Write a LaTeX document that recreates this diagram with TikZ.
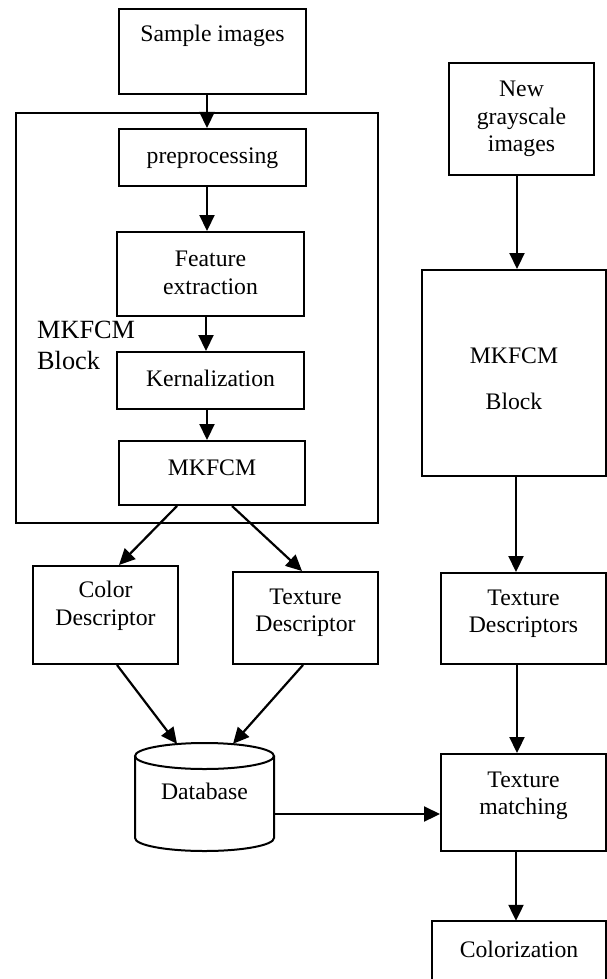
\documentclass[tikz,border=0pt]{standalone}
\usepackage{fontspec}
\setmainfont{Liberation Serif}
\usetikzlibrary{arrows.meta,calc}
\begin{document}
\begin{tikzpicture}[x=1pt,y=-1pt,
  boxline/.style={line width=2pt},
  blk/.style={draw,boxline,inner sep=0pt,rectangle},
  frame/.style={inner sep=0pt,rectangle},
  txt/.style={font=\fontsize{23.7}{27.5}\selectfont,align=center,inner sep=0pt},
  bigtxt/.style={font=\fontsize{26.3}{31}\selectfont,align=left,inner sep=0pt},
  arr/.style={line width=2.2pt,-{Triangle[length=16pt,width=15pt]}}]
\useasboundingbox (0,0) rectangle (607,979);
\fill[white] (0,0) rectangle (607,979);
% left column
\node[blk,minimum width=187,minimum height=85] (sample) at (212.5,51.5) {};
\node[blk,minimum width=362,minimum height=410] (outer) at (197,318) {};
\node[blk,minimum width=187,minimum height=57] (pre) at (212.5,157.5) {};
\node[blk,minimum width=187,minimum height=84] (feat) at (210.5,274) {};
\node[blk,minimum width=187,minimum height=57] (kern) at (210.5,380.5) {};
\node[blk,minimum width=186,minimum height=64] (mk) at (212,473) {};
\node[blk,minimum width=145,minimum height=98] (color) at (105.5,615) {};
\node[blk,minimum width=145,minimum height=92] (tex) at (305.5,618) {};
\node[frame,minimum width=139,minimum height=108] (db) at (204.5,797) {};
\draw[boxline] (204.5,756) ellipse[x radius=69.5pt,y radius=13pt];
\draw[boxline] (135,756) -- (135,838) arc[start angle=180,end angle=360,x radius=69.5pt,y radius=13pt] -- (274,756);
% right column
\node[blk,minimum width=145,minimum height=112] (new) at (521.5,119) {};
\node[blk,minimum width=184,minimum height=206] (rblock) at (514,373) {};
\node[blk,minimum width=165,minimum height=91] (rtex) at (523.5,618.5) {};
\node[blk,minimum width=165,minimum height=97] (match) at (523.5,802.5) {};
\node[frame,minimum width=174,minimum height=60] (colz) at (519,951) {};
\draw[boxline] (colz.south west) |- (colz.north east) -- (colz.south east);
% texts
\node[txt] (t1) at (212.5,36) {Sample images};
\node[txt] (t2) at (212.5,158) {preprocessing};
\node[txt] (t3) at (210.5,273) {Feature\\extraction};
\node[txt] (t4) at (210.5,378) {Kernalization};
\node[txt] (t5) at (212,468) {MKFCM};
\node[bigtxt,anchor=west] (t6) at (37,345) {MKFCM\\Block};
\node[txt] (t7) at (105.5,606) {Color\\Descriptor};
\node[txt] (t8) at (305.5,613) {Texture\\Descriptor};
\node[txt] (t9) at (204.5,791) {Database};
\node[txt] (t10) at (521.5,119) {New\\grayscale\\images};
\node[txt] (t11) at (514,356) {MKFCM};
\node[txt] (t12) at (514,401) {Block};
\node[txt] (t13) at (523.5,614) {Texture\\Descriptors};
\node[txt] (t14) at (523.5,796) {Texture\\matching};
\node[txt] (t15) at (519,949) {Colorization};
% connectors
\coordinate (lx) at (207,0);
\coordinate (lx2) at (206,0);
\coordinate (rx) at (517,0);
\coordinate (rx2) at (516,0);
\coordinate (dbo) at (274,814);
\draw[arr] (sample.south -| lx) -- (pre.north -| lx);
\draw[arr] (pre.south -| lx) -- (feat.north -| lx);
\draw[arr] (feat.south -| lx2) -- (kern.north -| lx2);
\draw[arr] (kern.south -| lx) -- (mk.north -| lx);
\draw[arr] ($(mk.south west)+(59,0)$) -- ($(color.north west)+(87,0)$);
\draw[arr] ($(mk.south west)+(114,0)$) -- ($(tex.north west)+(70,0)$);
\draw[arr] ($(color.south west)+(85,0)$) -- ($(db.north)+(-27.5,1)$);
\draw[arr] ($(tex.south west)+(71,0)$) -- ($(db.north)+(28.5,1)$);
\draw[arr] (dbo) -- (dbo -| match.west);
\draw[arr] (new.south -| rx) -- (rblock.north -| rx);
\draw[arr] (rblock.south -| rx2) -- (rtex.north -| rx2);
\draw[arr] (rtex.south -| rx) -- (match.north -| rx);
\draw[arr] (match.south -| rx2) -- (colz.north -| rx2);
\end{tikzpicture}
\end{document}
